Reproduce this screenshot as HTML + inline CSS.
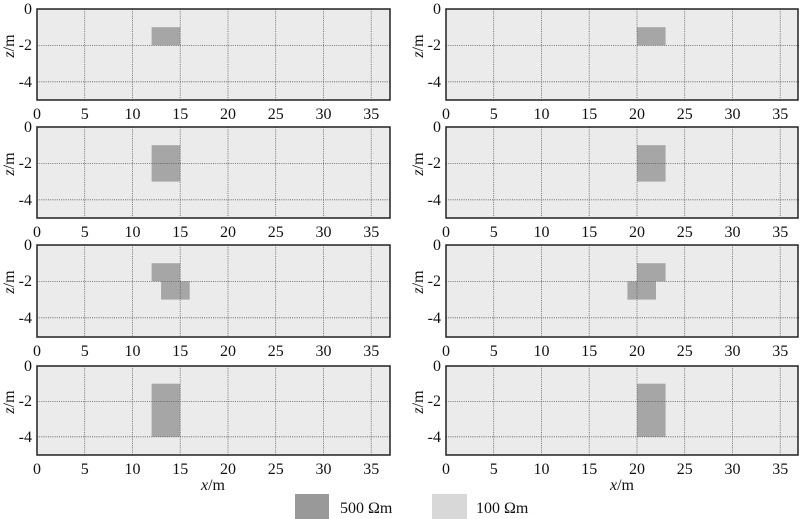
<!DOCTYPE html>
<html><head><meta charset="utf-8"><style>
html,body{margin:0;padding:0;background:#fff;}
svg{display:block;}
svg text, svg tspan{font-family:"Liberation Serif","Times New Roman","DejaVu Serif",serif !important;}
</style></head><body>
<svg width="800" height="519" xmlns="http://www.w3.org/2000/svg">
<defs>
<g id="grid" stroke="#555" stroke-width="0.8" stroke-dasharray="1,1.2" fill="none">
<line x1="47.7" y1="0" x2="47.7" y2="91"/><line x1="95.5" y1="0" x2="95.5" y2="91"/>
<line x1="143.2" y1="0" x2="143.2" y2="91"/><line x1="191" y1="0" x2="191" y2="91"/>
<line x1="238.7" y1="0" x2="238.7" y2="91"/><line x1="286.5" y1="0" x2="286.5" y2="91"/>
<line x1="334.2" y1="0" x2="334.2" y2="91"/>
<line x1="0" y1="36.4" x2="353" y2="36.4"/><line x1="0" y1="72.8" x2="353" y2="72.8"/>
</g>
</defs>
<g font-size="16" fill="#111" font-family="Liberation Serif, DejaVu Serif, serif">
<g transform="translate(37,9)">
<rect width="353" height="91" fill="#ebebeb"/>
<rect x="114.6" y="18.2" width="28.6" height="18.2" fill="#a6a6a6"/>
<use href="#grid"/><rect width="353" height="91" fill="none" stroke="#222" stroke-width="1.5"/>
<g text-anchor="end"><text x="-5" y="5">0</text><text x="-5" y="41">-2</text><text x="-5" y="78">-4</text></g>
<g text-anchor="middle"><text x="0" y="110">0</text><text x="47.7" y="110">5</text><text x="95.5" y="110">10</text><text x="143.2" y="110">15</text><text x="191" y="110">20</text><text x="238.7" y="110">25</text><text x="286.5" y="110">30</text><text x="334.2" y="110">35</text></g>
<text transform="translate(-23,37) rotate(-90)" text-anchor="middle"><tspan font-style="italic">z</tspan>/m</text>
</g>
<g transform="translate(446,9)">
<rect width="352" height="91" fill="#ebebeb"/>
<rect x="191" y="18.2" width="28.6" height="18.2" fill="#a6a6a6"/>
<use href="#grid"/><rect width="352" height="91" fill="none" stroke="#222" stroke-width="1.5"/>
<g text-anchor="end"><text x="-5" y="5">0</text><text x="-5" y="41">-2</text><text x="-5" y="78">-4</text></g>
<g text-anchor="middle"><text x="0" y="110">0</text><text x="47.7" y="110">5</text><text x="95.5" y="110">10</text><text x="143.2" y="110">15</text><text x="191" y="110">20</text><text x="238.7" y="110">25</text><text x="286.5" y="110">30</text><text x="334.2" y="110">35</text></g>
<text transform="translate(-23,37) rotate(-90)" text-anchor="middle"><tspan font-style="italic">z</tspan>/m</text>
</g>
<g transform="translate(37,127)">
<rect width="353" height="91" fill="#ebebeb"/>
<rect x="114.6" y="18.2" width="28.6" height="36.4" fill="#a6a6a6"/>
<use href="#grid"/><rect width="353" height="91" fill="none" stroke="#222" stroke-width="1.5"/>
<g text-anchor="end"><text x="-5" y="5">0</text><text x="-5" y="41">-2</text><text x="-5" y="78">-4</text></g>
<g text-anchor="middle"><text x="0" y="110">0</text><text x="47.7" y="110">5</text><text x="95.5" y="110">10</text><text x="143.2" y="110">15</text><text x="191" y="110">20</text><text x="238.7" y="110">25</text><text x="286.5" y="110">30</text><text x="334.2" y="110">35</text></g>
<text transform="translate(-23,37) rotate(-90)" text-anchor="middle"><tspan font-style="italic">z</tspan>/m</text>
</g>
<g transform="translate(446,127)">
<rect width="352" height="91" fill="#ebebeb"/>
<rect x="191" y="18.2" width="28.6" height="36.4" fill="#a6a6a6"/>
<use href="#grid"/><rect width="352" height="91" fill="none" stroke="#222" stroke-width="1.5"/>
<g text-anchor="end"><text x="-5" y="5">0</text><text x="-5" y="41">-2</text><text x="-5" y="78">-4</text></g>
<g text-anchor="middle"><text x="0" y="110">0</text><text x="47.7" y="110">5</text><text x="95.5" y="110">10</text><text x="143.2" y="110">15</text><text x="191" y="110">20</text><text x="238.7" y="110">25</text><text x="286.5" y="110">30</text><text x="334.2" y="110">35</text></g>
<text transform="translate(-23,37) rotate(-90)" text-anchor="middle"><tspan font-style="italic">z</tspan>/m</text>
</g>
<g transform="translate(37,245)">
<rect width="353" height="92" fill="#ebebeb"/>
<rect x="114.6" y="18.2" width="28.6" height="18.2" fill="#a6a6a6"/>
<rect x="124.1" y="36.4" width="28.6" height="18.2" fill="#a6a6a6"/>
<use href="#grid"/><rect width="353" height="92" fill="none" stroke="#222" stroke-width="1.5"/>
<g text-anchor="end"><text x="-5" y="5">0</text><text x="-5" y="41">-2</text><text x="-5" y="78">-4</text></g>
<g text-anchor="middle"><text x="0" y="111">0</text><text x="47.7" y="111">5</text><text x="95.5" y="111">10</text><text x="143.2" y="111">15</text><text x="191" y="111">20</text><text x="238.7" y="111">25</text><text x="286.5" y="111">30</text><text x="334.2" y="111">35</text></g>
<text transform="translate(-23,37) rotate(-90)" text-anchor="middle"><tspan font-style="italic">z</tspan>/m</text>
</g>
<g transform="translate(446,245)">
<rect width="352" height="92" fill="#ebebeb"/>
<rect x="191" y="18.2" width="28.6" height="18.2" fill="#a6a6a6"/>
<rect x="181.4" y="36.4" width="28.6" height="18.2" fill="#a6a6a6"/>
<use href="#grid"/><rect width="352" height="92" fill="none" stroke="#222" stroke-width="1.5"/>
<g text-anchor="end"><text x="-5" y="5">0</text><text x="-5" y="41">-2</text><text x="-5" y="78">-4</text></g>
<g text-anchor="middle"><text x="0" y="111">0</text><text x="47.7" y="111">5</text><text x="95.5" y="111">10</text><text x="143.2" y="111">15</text><text x="191" y="111">20</text><text x="238.7" y="111">25</text><text x="286.5" y="111">30</text><text x="334.2" y="111">35</text></g>
<text transform="translate(-23,37) rotate(-90)" text-anchor="middle"><tspan font-style="italic">z</tspan>/m</text>
</g>
<g transform="translate(37,366)">
<rect width="353" height="89" fill="#ebebeb"/>
<rect x="114.6" y="17.7" width="28.6" height="53.1" fill="#a6a6a6"/>
<g stroke="#555" stroke-width="0.8" stroke-dasharray="1,1.2">
<line x1="47.7" y1="0" x2="47.7" y2="89"/><line x1="95.5" y1="0" x2="95.5" y2="89"/><line x1="143.2" y1="0" x2="143.2" y2="89"/><line x1="191" y1="0" x2="191" y2="89"/><line x1="238.7" y1="0" x2="238.7" y2="89"/><line x1="286.5" y1="0" x2="286.5" y2="89"/><line x1="334.2" y1="0" x2="334.2" y2="89"/>
<line x1="0" y1="35.4" x2="353" y2="35.4"/><line x1="0" y1="70.8" x2="353" y2="70.8"/></g>
<rect width="353" height="89" fill="none" stroke="#222" stroke-width="1.5"/>
<g text-anchor="end"><text x="-5" y="5">0</text><text x="-5" y="40">-2</text><text x="-5" y="76">-4</text></g>
<g text-anchor="middle"><text x="0" y="108">0</text><text x="47.7" y="108">5</text><text x="95.5" y="108">10</text><text x="143.2" y="108">15</text><text x="191" y="108">20</text><text x="238.7" y="108">25</text><text x="286.5" y="108">30</text><text x="334.2" y="108">35</text></g>
<text transform="translate(-23,36) rotate(-90)" text-anchor="middle"><tspan font-style="italic">z</tspan>/m</text>
</g>
<g transform="translate(446,366)">
<rect width="352" height="89" fill="#ebebeb"/>
<rect x="191" y="17.7" width="28.6" height="53.1" fill="#a6a6a6"/>
<g stroke="#555" stroke-width="0.8" stroke-dasharray="1,1.2">
<line x1="47.7" y1="0" x2="47.7" y2="89"/><line x1="95.5" y1="0" x2="95.5" y2="89"/><line x1="143.2" y1="0" x2="143.2" y2="89"/><line x1="191" y1="0" x2="191" y2="89"/><line x1="238.7" y1="0" x2="238.7" y2="89"/><line x1="286.5" y1="0" x2="286.5" y2="89"/><line x1="334.2" y1="0" x2="334.2" y2="89"/>
<line x1="0" y1="35.4" x2="352" y2="35.4"/><line x1="0" y1="70.8" x2="352" y2="70.8"/></g>
<rect width="352" height="89" fill="none" stroke="#222" stroke-width="1.5"/>
<g text-anchor="end"><text x="-5" y="5">0</text><text x="-5" y="40">-2</text><text x="-5" y="76">-4</text></g>
<g text-anchor="middle"><text x="0" y="108">0</text><text x="47.7" y="108">5</text><text x="95.5" y="108">10</text><text x="143.2" y="108">15</text><text x="191" y="108">20</text><text x="238.7" y="108">25</text><text x="286.5" y="108">30</text><text x="334.2" y="108">35</text></g>
<text transform="translate(-23,36) rotate(-90)" text-anchor="middle"><tspan font-style="italic">z</tspan>/m</text>
</g>
<text x="213" y="490" text-anchor="middle"><tspan font-style="italic">x</tspan>/m</text>
<text x="622" y="490" text-anchor="middle"><tspan font-style="italic">x</tspan>/m</text>
<rect x="295" y="494" width="34" height="25" fill="#999"/>
<text x="340" y="513">500 Ωm</text>
<rect x="432" y="494" width="35" height="25" fill="#d8d8d8"/>
<text x="476" y="513">100 Ωm</text>
</g>
</svg>
</body></html>
